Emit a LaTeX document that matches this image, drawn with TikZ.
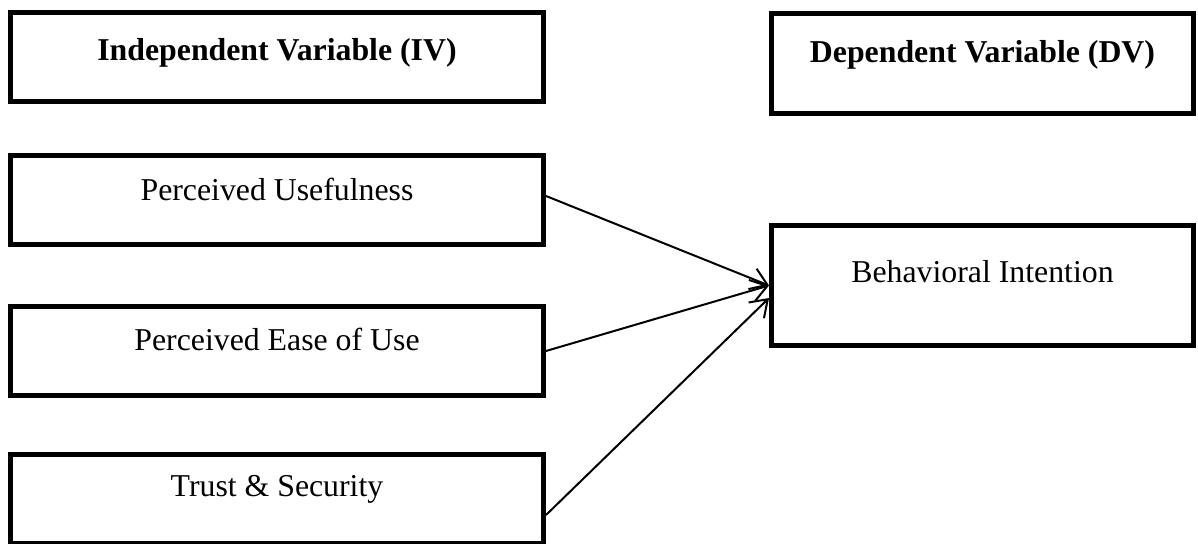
\documentclass[tikz,border=0pt]{standalone}
\usepackage{fontspec}
\setmainfont{Liberation Serif}
\usetikzlibrary{arrows.meta}
\begin{document}
\begin{tikzpicture}[x=1pt,y=1pt,
  box/.style={draw=black,line width=5pt,rectangle,inner sep=0pt,fill=none},
  lbl/.style={anchor=base,inner sep=0pt,font=\fontsize{31.8}{38}\selectfont},
  hdr/.style={lbl,font=\fontsize{31.8}{38}\selectfont\bfseries},
  conn/.style={line width=2pt,-{Straight Barb[length=16pt,width=22pt,line width=2pt]}}]
\useasboundingbox (0,0) rectangle (1198,-543);
\fill[white] (0,0) rectangle (1198,-543);
% boxes
\node[box,minimum width=533pt,minimum height=88.5pt] (iv) at (277,-57.25) {};
\node[box,minimum width=422pt,minimum height=100pt] (dv) at (982.5,-63.5) {};
\node[box,minimum width=533pt,minimum height=89pt] (pu) at (277,-200) {};
\node[box,minimum width=533pt,minimum height=89pt] (pe) at (277,-351) {};
\node[box,minimum width=533pt,minimum height=89pt] (ts) at (277,-499) {};
\node[box,minimum width=422pt,minimum height=120pt] (bi) at (982.5,-285.5) {};
% texts
\node[hdr] (ivt) at (277,-60) {Independent Variable (IV)};
\node[hdr] (dvt) at (982.5,-63) {Dependent Variable (DV)};
\node[lbl] (put) at (277,-200) {Perceived Usefulness};
\node[lbl] (pet) at (277,-350) {Perceived Ease of Use};
\node[lbl] (tst) at (277,-496) {Trust \& Security};
\node[lbl] (bit) at (982.5,-282) {Behavioral Intention};
% connectors
\draw[conn] ([yshift=4pt]pu.east) -- (bi.west);
\draw[conn] (pe.east) -- (bi.west);
\draw[conn] ([yshift=-16pt]ts.east) -- ([yshift=-12.5pt]bi.west);
\end{tikzpicture}
\end{document}
